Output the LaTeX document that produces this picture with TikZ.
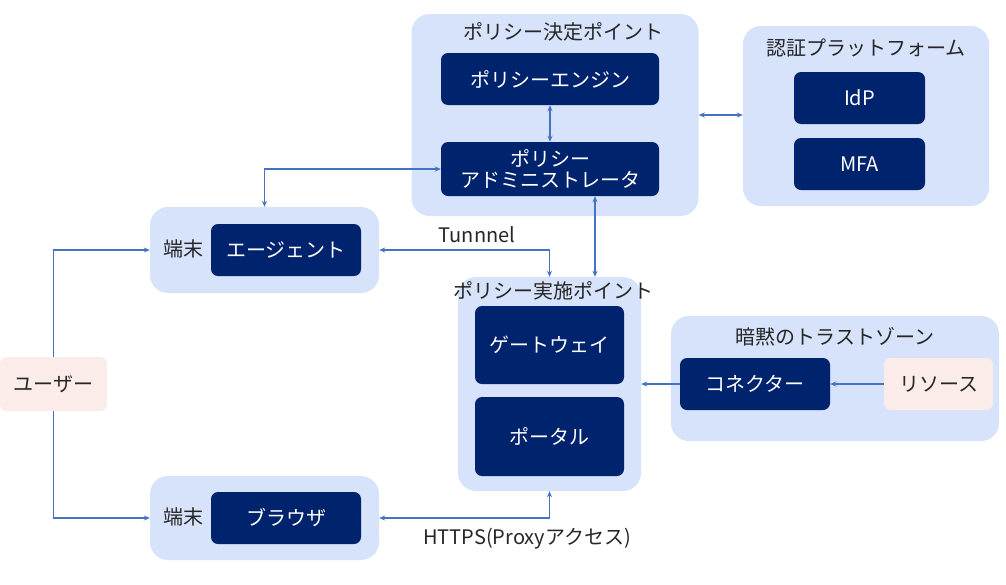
\documentclass[tikz,border=0pt]{standalone}
\usepackage{fontspec}
\setmainfont{Noto Sans CJK JP}
\usetikzlibrary{arrows.meta}
\definecolor{grpblue}{RGB}{214,227,251}
\definecolor{navy}{RGB}{0,35,110}
\definecolor{pinkbg}{RGB}{251,236,233}
\definecolor{linkblue}{RGB}{68,114,196}
\begin{document}
\begin{tikzpicture}[x=1pt, y=-1pt,
  every node/.style={inner sep=0pt, font=\fontsize{20}{24}\selectfont},
  group/.style={fill=grpblue, rounded corners=18pt},
  box/.style={fill=navy, text=white, rounded corners=7pt, align=center},
  actor/.style={fill=pinkbg, rounded corners=7pt, text=black!85},
  lbl/.style={text=black!85},
  link/.style={draw=linkblue, line width=1.6pt, -{Stealth[length=6pt, width=5pt]}},
  dlink/.style={link, {Stealth[length=6pt, width=5pt]}-{Stealth[length=6pt, width=5pt]}}]
  \useasboundingbox (0,0) rectangle (1006,584);
  % groups
  \node[group, minimum width=287pt, minimum height=202pt] (decision) at (555,115) {};
  \node[group, minimum width=246pt, minimum height=180pt] (auth) at (866,116) {};
  \node[group, minimum width=229pt, minimum height=86pt] (term1) at (264.5,250) {};
  \node[group, minimum width=229pt, minimum height=84pt] (term2) at (264.5,518) {};
  \node[group, minimum width=183pt, minimum height=214pt] (pep) at (549.5,384) {};
  \node[group, minimum width=328pt, minimum height=125pt] (trust) at (835,378.5) {};
  % group labels
  \node[lbl] (decisionlbl) at (563,32) {ポリシー決定ポイント};
  \node[lbl] (authlbl) at (866,48) {認証プラットフォーム};
  \node[lbl] (term1lbl) at (183,249) {端末};
  \node[lbl] (term2lbl) at (183,517) {端末};
  \node[lbl] (peplbl) at (553,291) {ポリシー実施ポイント};
  \node[lbl] (trustlbl) at (835,337) {暗黙のトラストゾーン};
  % boxes
  \node[box, minimum width=218pt, minimum height=52pt] (engine) at (550,79) {ポリシーエンジン};
  \node[box, minimum width=218pt, minimum height=54pt] (admin) at (550,169) {ポリシー\\[-3pt]アドミニストレータ};
  \node[box, minimum width=131pt, minimum height=52pt] (idp) at (859.5,98) {IdP};
  \node[box, minimum width=131pt, minimum height=52pt] (mfa) at (859.5,164) {MFA};
  \node[box, minimum width=150pt, minimum height=52pt] (agent) at (286,250) {エージェント};
  \node[box, minimum width=150pt, minimum height=52pt] (browser) at (286,518) {ブラウザ};
  \node[box, minimum width=149pt, minimum height=78pt] (gateway) at (549.5,345) {ゲートウェイ};
  \node[box, minimum width=149pt, minimum height=79pt] (portal) at (549.5,436.5) {ポータル};
  \node[box, minimum width=150pt, minimum height=52pt] (connector) at (755,384) {コネクター};
  \node[actor, minimum width=109pt, minimum height=52pt] (resource) at (938.5,384) {リソース};
  \node[actor, minimum width=107pt, minimum height=54pt] (user) at (53.5,384) {ユーザー};
  % connectors
  \draw[dlink] (engine.south) -- (admin.north);
  \draw[dlink] (decision.east) -- (decision.east -| auth.west);
  \draw[dlink] (admin.west) -| (term1.north);
  \draw[dlink] (term1.east) -| (pep.north);
  \draw[dlink] ([xshift=45pt]admin.south) -- ([xshift=45pt]admin.south |- pep.north);
  \draw[link] (connector.west) -- (connector.west -| pep.east);
  \draw[link] (resource.west) -- (connector.east);
  \draw[link] (user.north) |- (term1.west);
  \draw[link] (user.south) |- (term2.west);
  \draw[dlink] (term2.east) -| (pep.south);
  % connector labels
  \node[lbl] (tunnel) at (477,235) {Tunnnel};
  \node[lbl] (https) at (527,539) {HTTPS(Proxyアクセス)};
\end{tikzpicture}
\end{document}
